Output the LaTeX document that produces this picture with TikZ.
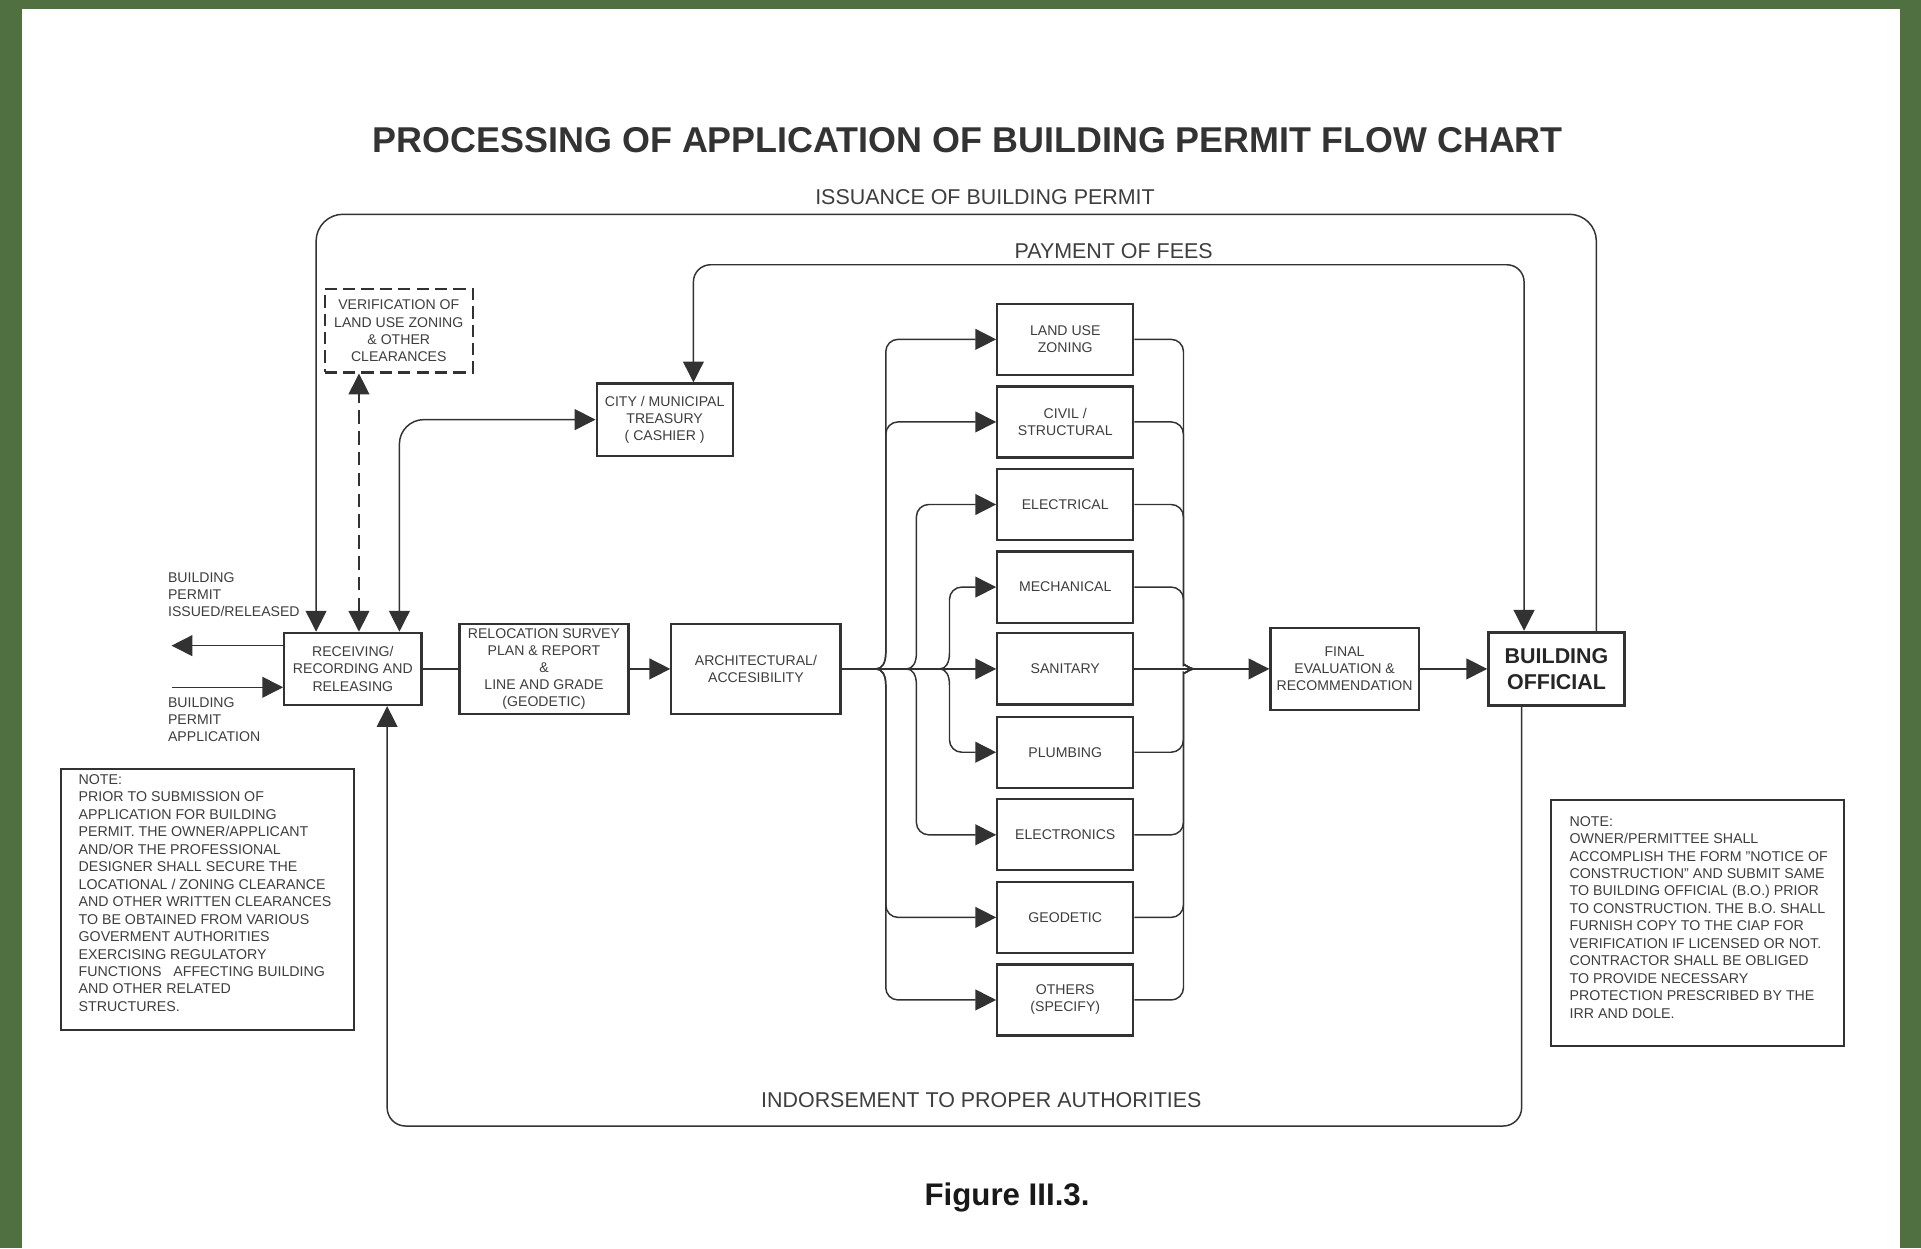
\documentclass[tikz,border=0pt]{standalone}
\usepackage{fontspec}
\setmainfont{Liberation Sans}
\usetikzlibrary{arrows.meta,calc}
\definecolor{frame}{RGB}{80,112,66}
\definecolor{ink}{RGB}{50,50,50}
\definecolor{txt}{RGB}{62,62,62}
\begin{document}
\begin{tikzpicture}[x=1pt,y=-1pt,
  box/.style={draw=ink,line width=1.8pt,rectangle,inner sep=0pt,align=center,text=txt,font=\fontsize{11.5}{14}\selectfont},
  disc/.style={box,minimum width=111pt,minimum height=58pt},
  conn/.style={draw=ink,line width=1.2pt},
  arr/.style={-{Triangle[length=17pt,width=17pt]}},
  arrb/.style={{Triangle[length=17pt,width=17pt]}-{Triangle[length=17pt,width=17pt]}},
  lbl/.style={text=txt,inner sep=0pt,font=\fontsize{17.5}{21}\selectfont},
  small/.style={text=txt,inner sep=0pt,align=left,font=\fontsize{11.5}{14}\selectfont},
  notetext/.style={text=txt,inner sep=0pt,align=left,font=\fontsize{11.6}{14.25}\selectfont},
  notebox/.style={draw=ink,line width=1.6pt,inner sep=0pt,minimum width=239pt}
]
% background and frame
\fill[frame] (0,0) rectangle (1568,1019);
\fill[white] (18,7) rectangle (1551,1019);
\useasboundingbox (0,0) rectangle (1568,1019);

% titles and labels
\node[text=black!80,font=\bfseries\fontsize{29.3}{34}\selectfont,inner sep=0pt] (title) at (790,114) {PROCESSING OF APPLICATION OF BUILDING PERMIT FLOW CHART};
\node[lbl] (iss) at (804,161) {ISSUANCE OF BUILDING PERMIT};
\node[lbl] (pay) at (909,205) {PAYMENT OF FEES};
\node[lbl] (ind) at (801,898) {INDORSEMENT TO PROPER AUTHORITIES};
\node[text=black!90,font=\bfseries\fontsize{25.5}{30}\selectfont,inner sep=0pt,anchor=base] (fig) at (822,984) {Figure III.3.};

% main boxes
\node[box,minimum width=112pt,minimum height=59pt] (recv) at (288,546) {RECEIVING/\\RECORDING AND\\RELEASING};
\node[box,minimum width=138pt,minimum height=73pt] (reloc) at (444,546) {RELOCATION SURVEY\\PLAN \& REPORT\\\&\\LINE AND GRADE\\(GEODETIC)};
\node[box,minimum width=138pt,minimum height=73pt] (arch) at (617,546) {ARCHITECTURAL/\\ACCESIBILITY};
\node[box,dash pattern=on 10pt off 5pt,minimum width=121pt,minimum height=68pt] (verif) at (325.5,270) {VERIFICATION OF\\LAND USE ZONING\\\& OTHER\\CLEARANCES};
\node[box,minimum width=111pt,minimum height=59pt] (treas) at (542.5,342.5) {CITY / MUNICIPAL\\TREASURY\\( CASHIER )};
\node[box,minimum width=121pt,minimum height=67pt] (final) at (1097.5,546) {FINAL\\EVALUATION \&\\RECOMMENDATION};
\node[box,line width=2.2pt,minimum width=111pt,minimum height=60pt,text=black!85,font=\bfseries\fontsize{17.5}{21}\selectfont] (bo) at (1270.5,546) {BUILDING\\OFFICIAL};

% discipline boxes
\node[disc] (lu) at (869.5,277) {LAND USE\\ZONING};
\node[disc] (cs) at (869.5,344.4) {CIVIL /\\STRUCTURAL};
\node[disc] (el) at (869.5,411.8) {ELECTRICAL};
\node[disc] (me) at (869.5,479.2) {MECHANICAL};
\node[disc] (sa) at (869.5,546) {SANITARY};
\node[disc] (pl) at (869.5,614) {PLUMBING};
\node[disc] (ec) at (869.5,681.4) {ELECTRONICS};
\node[disc] (ge) at (869.5,748.8) {GEODETIC};
\node[disc] (ot) at (869.5,816.2) {OTHERS\\(SPECIFY)};

% notes
\node[notebox,minimum height=213pt] (note1) at (169.5,734.5) {};
\node[notetext,anchor=north west] (note1t) at (64,632) {NOTE:\\PRIOR TO SUBMISSION OF\\APPLICATION FOR BUILDING\\PERMIT. THE OWNER/APPLICANT\\AND/OR THE PROFESSIONAL\\DESIGNER SHALL SECURE THE\\LOCATIONAL / ZONING CLEARANCE\\AND OTHER WRITTEN CLEARANCES\\TO BE OBTAINED FROM VARIOUS\\GOVERMENT AUTHORITIES\\EXERCISING REGULATORY\\FUNCTIONS~~~AFFECTING BUILDING\\AND OTHER RELATED\\STRUCTURES.};
\node[notebox,minimum height=201pt] (note2) at (1385.5,753.5) {};
\node[notetext,anchor=north west] (note2t) at (1281,666) {NOTE:\\OWNER/PERMITTEE SHALL\\ACCOMPLISH THE FORM "NOTICE OF\\CONSTRUCTION" AND SUBMIT SAME\\TO BUILDING OFFICIAL (B.O.) PRIOR\\TO CONSTRUCTION. THE B.O. SHALL\\FURNISH COPY TO THE CIAP FOR\\VERIFICATION IF LICENSED OR NOT.\\CONTRACTOR SHALL BE OBLIGED\\TO PROVIDE NECESSARY\\PROTECTION PRESCRIBED BY THE\\IRR AND DOLE.};

% side labels
\node[small,anchor=north west] (lblout) at (137,467) {BUILDING\\PERMIT\\ISSUED/RELEASED};
\node[small,anchor=north west] (lblin) at (137,569) {BUILDING\\PERMIT\\APPLICATION};
\coordinate (outtip) at (140,527);
\coordinate (instart) at (140,561);

% loops
\draw[conn,arr,rounded corners=22] ([xshift=32.5pt]bo.north) -- ++(0,-340) -| ([xshift=-30pt]recv.north);
\draw[conn,arrb,rounded corners=14] ([xshift=23.5pt]treas.north) -- ++(0,-96) -| ([xshift=-26.5pt]bo.north);
\draw[conn,arr,rounded corners=15] ([xshift=-28.5pt]bo.south) -- ++(0,342) -| ([xshift=28pt]recv.south);
\draw[conn,arrb,dash pattern=on 11pt off 6pt] ([xshift=5pt]recv.north) -- ([xshift=5pt]recv.north |- verif.south);
\draw[conn,arrb,rounded corners=20] ([xshift=38pt]recv.north) |- (treas.west);

% in / out
\draw[conn,arr] (recv.west |- outtip) -- (outtip);
\draw[conn,arr] (instart) -- (recv.west |- instart);

% main row
\draw[conn] (recv.east) -- (reloc.west);
\draw[conn,arr] (reloc.east) -- (arch.west);
\draw[conn,arr] (arch.east) -- (sa.west);
\draw[conn,arr] (sa.east) -- (final.west);
\draw[conn,arr] (final.east) -- (bo.west);

% left braces
\coordinate (L723) at (715,546);
\coordinate (L748) at (740,546);
\coordinate (L775) at (767,546);
\foreach \b/\X/\s in {lu/723/-1, cs/723/-1, ge/723/1, ot/723/1, el/748/-1, ec/748/1, me/775/-1, pl/775/1}{
  \draw[conn,arr] (L\X) .. controls ({\X-3},546) and (\X,{546+\s*5}) .. (\X,{546+\s*13}) [rounded corners=10] |- (\b.west);
}
% right brace
\coordinate (R) at (974,546);
\foreach \b/\s in {lu/-1, cs/-1, el/-1, me/-1, pl/1, ec/1, ge/1, ot/1}{
  \draw[conn] (\b.east) [rounded corners=10] -| (966,{546+\s*13}) [sharp corners] .. controls (966,{546+\s*5}) and (971,546) .. (R);
}
\end{tikzpicture}
\end{document}
